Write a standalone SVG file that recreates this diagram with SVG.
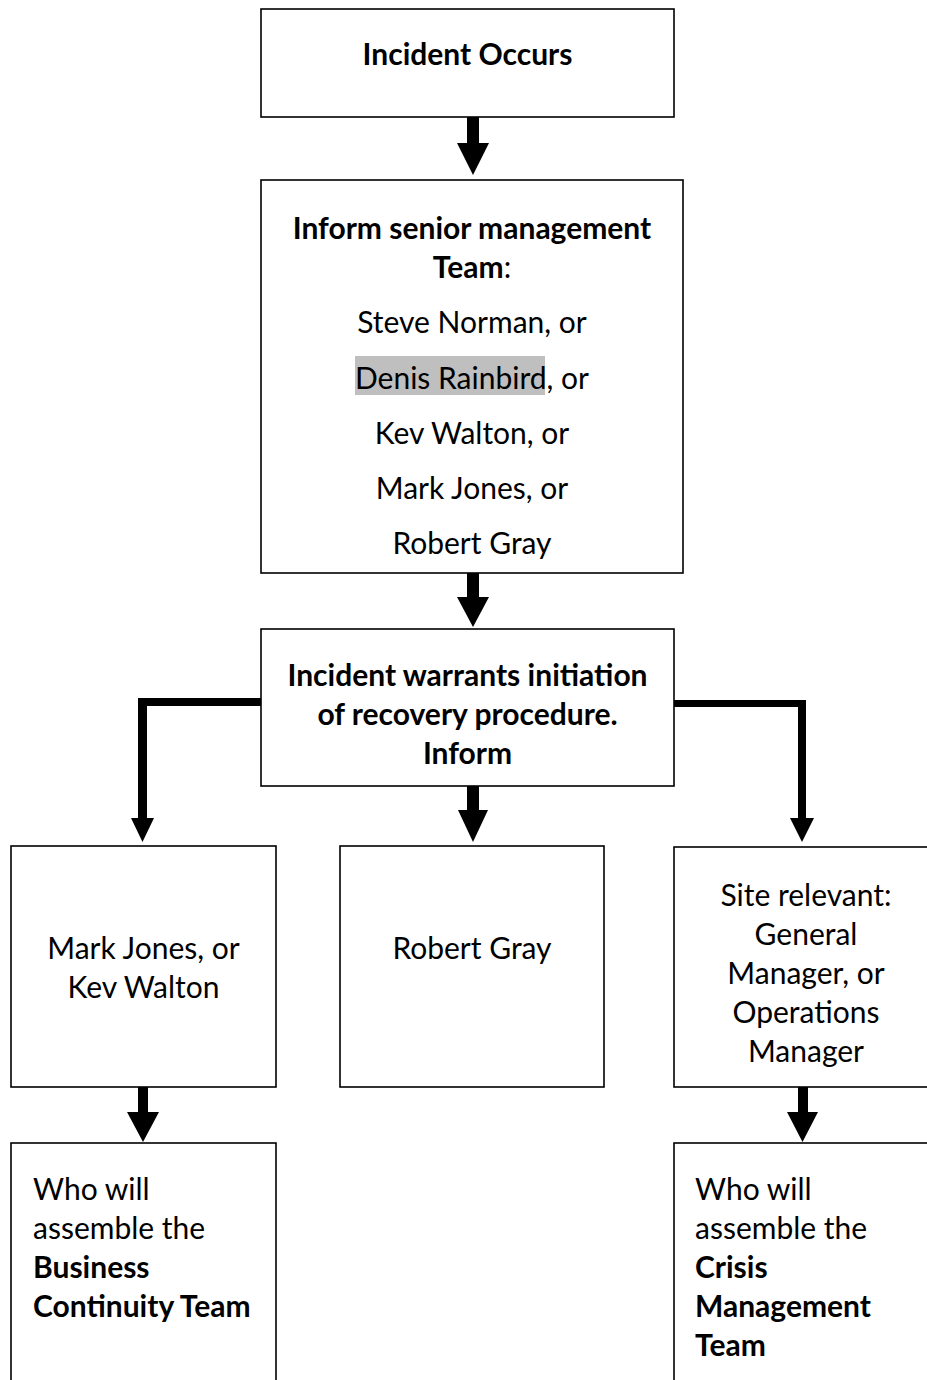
<svg xmlns="http://www.w3.org/2000/svg" width="927" height="1380" viewBox="0 0 927 1380">
<style>
.box{fill:#fff;stroke:#000;stroke-width:1.6}
.t{font-family:Lato,"Liberation Sans",sans-serif;font-size:30px;fill:#000}
.c{text-anchor:middle}
.b{font-weight:bold}
.arr{fill:#000;stroke:none}
</style>
<rect width="927" height="1380" fill="#fff"/>
<g id="connectors">
<path class="arr" d="M467,117H479V143H489L473,175L457,143H467Z"/>
<path class="arr" d="M467,573H479V597H489L473,627L457,597H467Z"/>
<path class="arr" d="M467,786H479V810H488L473,842L458,810H467Z"/>
<path class="arr" d="M263,698V706H147V818H154L142.5,842L131,818H138V698Z"/>
<path class="arr" d="M670,700V707H798V818H790L802,842L814,818H806V700Z"/>
<path class="arr" d="M138,1087H148V1112H159L143,1142L127,1112H138Z"/>
<path class="arr" d="M798,1087H808V1112H818L802.5,1142L787,1112H798Z"/>
</g>
<g id="n1">
<rect class="box" x="261" y="9" width="413" height="108"/>
<text class="t c b" x="467.5" y="65">Incident Occurs</text>
</g>
<g id="n2">
<rect class="box" x="261" y="180" width="422" height="393"/>
<text class="t c b" x="472" y="239">Inform senior management</text>
<text class="t c" x="472" y="278"><tspan class="b">Team</tspan>:</text>
<text class="t c" x="472" y="333">Steve Norman, or</text>
<rect x="355" y="356" width="190" height="39" fill="#bfbfbf"/>
<text class="t c" x="472" y="389">Denis Rainbird, or</text>
<text class="t c" x="472" y="444">Kev Walton, or</text>
<text class="t c" x="472" y="499">Mark Jones, or</text>
<text class="t c" x="472" y="554">Robert Gray</text>
</g>
<g id="n3">
<rect class="box" x="261" y="629" width="413" height="157"/>
<text class="t c b" x="467.5" y="686">Incident warrants initiation</text>
<text class="t c b" x="467.5" y="725">of recovery procedure.</text>
<text class="t c b" x="467.5" y="764">Inform</text>
</g>
<g id="n4">
<rect class="box" x="11" y="846" width="265" height="241"/>
<text class="t c" x="143.5" y="959">Mark Jones, or</text>
<text class="t c" x="143.5" y="998">Kev Walton</text>
</g>
<g id="n5">
<rect class="box" x="340" y="846" width="264" height="241"/>
<text class="t c" x="472" y="959">Robert Gray</text>
</g>
<g id="n6">
<rect class="box" x="674" y="847" width="264" height="240"/>
<text class="t c" x="806" y="906">Site relevant:</text>
<text class="t c" x="806" y="945">General</text>
<text class="t c" x="806" y="984">Manager, or</text>
<text class="t c" x="806" y="1023">Operations</text>
<text class="t c" x="806" y="1062">Manager</text>
</g>
<g id="n7">
<rect class="box" x="11" y="1143" width="265" height="260"/>
<text class="t" x="33" y="1200">Who will</text>
<text class="t" x="33" y="1239">assemble the</text>
<text class="t b" x="33" y="1278">Business</text>
<text class="t b" x="33" y="1317">Continuity Team</text>
</g>
<g id="n8">
<rect class="box" x="674" y="1143" width="264" height="260"/>
<text class="t" x="695" y="1200">Who will</text>
<text class="t" x="695" y="1239">assemble the</text>
<text class="t b" x="695" y="1278">Crisis</text>
<text class="t b" x="695" y="1317">Management</text>
<text class="t b" x="695" y="1356">Team</text>
</g>
</svg>
